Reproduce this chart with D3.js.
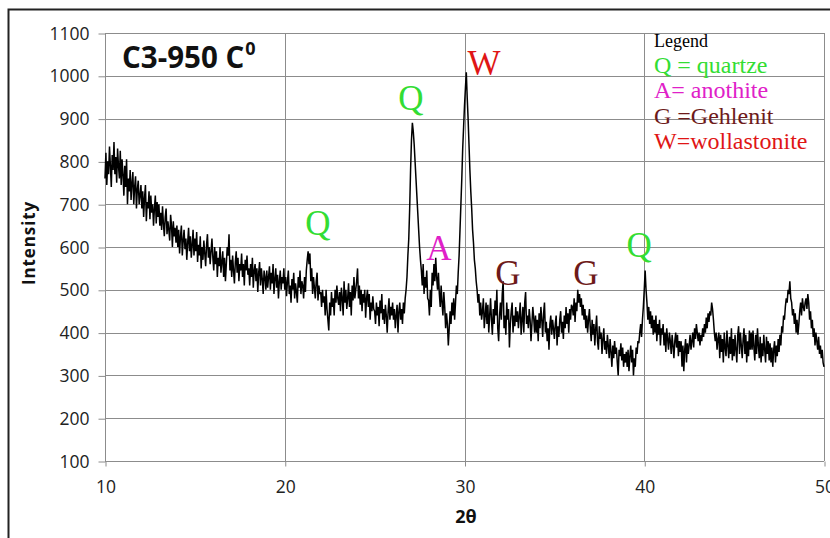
<!DOCTYPE html>
<html><head><meta charset="utf-8">
<script src="https://cdn.jsdelivr.net/npm/d3@7"></script>
<style>
html,body{margin:0;padding:0;background:#fff;}
svg{display:block;}
</style></head>
<body>
<svg id="chart" width="830" height="538"></svg>
<script>
// ---- data (2θ from 10 to 50, step 0.05) ----
const xStart = 10, xStep = 0.05;
const intensity = [
760,820,745,800,770,835,790,740,815,780,845,770,810,750,830,790,760,825,745,805,
770,720,790,740,805,700,760,730,780,710,750,775,700,740,765,690,735,755,700,720,
745,690,730,670,715,745,660,705,690,730,665,720,680,700,650,690,720,655,705,670,
700,650,680,640,695,655,625,670,690,630,660,640,615,675,650,600,660,625,645,610,
650,600,640,585,625,650,580,615,640,595,620,570,610,645,590,625,575,605,640,580,
620,590,635,565,605,580,625,550,600,570,615,585,555,605,630,575,600,560,590,620,
575,545,600,560,590,530,575,555,600,540,565,590,530,575,520,560,600,580,630,545,
570,530,580,545,515,565,590,540,575,520,560,545,585,530,560,510,570,545,580,535,
550,510,560,530,575,505,545,560,520,550,495,540,565,510,550,525,490,545,530,500,
545,505,530,555,500,540,515,560,490,525,550,505,535,480,520,545,500,530,515,550,
500,530,485,520,545,490,510,470,525,500,540,480,515,495,470,530,505,545,490,520,
510,480,530,495,545,570,590,560,585,520,550,490,530,505,480,520,540,475,510,490,
495,460,500,470,485,440,500,455,430,405,470,440,495,460,480,440,500,470,510,480,
465,495,450,505,480,440,520,470,500,455,480,515,460,495,440,510,475,530,480,500,
520,550,480,510,465,500,450,490,470,500,435,480,500,460,490,430,470,450,485,455,
450,420,470,440,460,415,475,445,490,430,455,420,465,440,400,450,480,430,460,440,
470,430,455,410,440,465,400,450,470,430,455,420,470,445,480,500,530,580,620,690,
780,850,890,870,840,800,760,720,680,640,600,570,545,510,560,490,530,505,545,480,
475,440,500,460,540,510,560,520,575,530,500,540,490,460,510,470,440,495,460,410,
445,420,370,410,450,420,470,440,480,430,470,510,490,540,580,640,700,760,830,880,
930,970,1008,950,900,840,780,730,690,640,610,570,550,520,500,470,490,440,470,430,
450,480,410,440,470,420,465,400,440,480,430,395,455,420,475,440,500,410,380,440,
470,430,490,520,410,440,395,470,430,455,365,420,450,470,400,440,415,460,425,450,
410,440,470,395,430,460,400,470,495,420,440,410,455,430,380,420,460,435,400,440,
400,430,380,445,410,460,430,390,445,470,400,425,380,410,360,420,440,395,430,410,
385,420,440,370,415,390,430,450,400,425,385,440,410,460,420,445,400,455,430,465,
460,440,480,425,470,450,500,470,490,460,480,440,465,430,455,410,440,400,430,455,
410,380,430,395,420,370,410,440,380,360,415,385,400,350,385,410,360,380,350,395,
370,340,385,355,320,370,340,380,350,365,330,300,360,345,375,335,365,320,350,330,
355,320,360,310,345,370,330,360,300,340,320,365,350,380,375,400,420,390,430,460,
500,545,500,470,430,460,420,450,410,440,395,430,400,440,380,420,395,430,370,410,
395,420,370,400,355,410,385,360,400,380,350,395,370,340,380,400,365,395,345,380,
355,380,320,370,310,360,385,330,375,350,370,395,360,380,400,365,410,385,420,400,
380,400,370,395,380,410,390,420,400,435,410,445,425,450,440,470,455,430,400,380,
400,360,385,400,340,395,355,385,330,400,365,345,405,370,340,390,350,410,335,385,
345,395,360,330,395,415,350,400,370,340,385,410,350,395,330,380,345,405,360,400,
360,405,365,335,395,350,410,370,340,390,330,375,345,395,360,330,390,350,380,335,
375,330,365,320,360,380,330,370,345,385,355,395,370,415,400,440,430,460,480,470,
500,490,520,480,470,440,455,420,445,400,430,395,420,450,470,440,480,460,450,470,
480,455,490,470,430,450,410,430,390,410,370,400,380,360,390,350,370,340,360,330,
320
];
const xTicks = [10,20,30,40,50];
const yTicks = [100,200,300,400,500,600,700,800,900,1000,1100];
const peakLabels = [
  {t:"Q", x:21.85, y:628, c:"#33dd33"},
  {t:"Q", x:27.02, y:920, c:"#33dd33"},
  {t:"A", x:28.58, y:570, c:"#e020c8"},
  {t:"W", x:31.08, y:1002, c:"#e01515"},
  {t:"G", x:32.42, y:511, c:"#6e1a1a"},
  {t:"G", x:36.76, y:511, c:"#6e1a1a"},
  {t:"Q", x:39.71, y:577, c:"#33dd33"}
];
const legendTitle = "Legend";
const legendItems = [
  {t:"Q = quartze", c:"#33dd33"},
  {t:"A= anothite", c:"#e020c8"},
  {t:"G =Gehlenit", c:"#6e1a1a"},
  {t:"W=wollastonite", c:"#e01515"}
];

// ---- chart ----
const svg = d3.select("#chart");
const x = d3.scaleLinear().domain([10,50]).range([105,824]);
const y = d3.scaleLinear().domain([100,1100]).range([461,33]);

// frame
svg.append("rect").attr("x",8.5).attr("y",9.5).attr("width",900).attr("height",900)
  .attr("fill","none").attr("stroke","#222").attr("stroke-width",2);

// gridlines
svg.append("g").selectAll("line").data(yTicks).join("line")
  .attr("x1",x(10)).attr("x2",x(50)).attr("y1",d=>Math.round(y(d))+0.5).attr("y2",d=>Math.round(y(d))+0.5)
  .attr("stroke","#8c8c8c").attr("stroke-width",1);
svg.append("g").selectAll("line").data(xTicks).join("line")
  .attr("y1",y(1100)).attr("y2",y(100)).attr("x1",d=>Math.round(x(d))+0.5).attr("x2",d=>Math.round(x(d))+0.5)
  .attr("stroke","#8c8c8c").attr("stroke-width",1);

// axes
const fmt = d3.format("d");
const yAxis = d3.axisLeft(y).tickValues(yTicks).tickFormat(fmt).tickSize(7).tickPadding(9);
const gy = svg.append("g").attr("transform",`translate(${Math.round(x(10))+0.5},0.5)`).call(yAxis);
const xAxis = d3.axisBottom(x).tickValues(xTicks).tickFormat(fmt).tickSize(5).tickPadding(14);
const gx = svg.append("g").attr("transform",`translate(0.5,${Math.round(y(100))+0.5})`).call(xAxis);
[gx,gy].forEach(g=>{
  g.select(".domain").remove();
  g.selectAll(".tick line").attr("stroke","#8c8c8c");
  g.selectAll(".tick text").attr("fill","#222").style("font-family","'Open Sans', sans-serif").style("font-size","17.5px");
});

// data line
const data = intensity.map((v,i)=>({x: xStart + i*xStep, y: v}));
svg.append("path").datum(data)
  .attr("fill","none").attr("stroke","#000").attr("stroke-width",1.5).attr("stroke-linejoin","miter")
  .attr("d", d3.line().x(d=>x(d.x)).y(d=>y(d.y)));

// axis titles
svg.append("text").attr("transform",`translate(35,243) rotate(-90)`)
  .attr("text-anchor","middle").style("font-family","'Open Sans', sans-serif").style("font-weight","bold")
  .style("font-size","17px").style("letter-spacing","0.9px").attr("fill","#111").text("Intensity");
svg.append("text").attr("x",466).attr("y",523).attr("text-anchor","middle")
  .style("font-family","'Open Sans', sans-serif").style("font-weight","bold").style("font-size","18px")
  .attr("fill","#111").text("2θ");

// title
const title = svg.append("text").attr("x",122).attr("y",68)
  .style("font-family","'Open Sans', sans-serif").style("font-weight","bold").style("font-size","29.5px").attr("fill","#111");
title.append("tspan").text("C3-950 C");
title.append("tspan").attr("dy",-13).attr("dx",1).style("font-size","18px").text("0");

// peak labels
svg.append("g").selectAll("text").data(peakLabels).join("text")
  .attr("x",d=>x(d.x)).attr("y",d=>y(d.y)).attr("text-anchor","middle")
  .style("font-family","'Liberation Serif', serif").style("font-size","35px")
  .attr("fill",d=>d.c).text(d=>d.t);

// legend
svg.append("text").attr("x",654).attr("y",47).style("font-family","'Liberation Serif', serif")
  .style("font-size","18px").attr("fill","#000").text(legendTitle);
svg.append("g").selectAll("text").data(legendItems).join("text")
  .attr("x",654).attr("y",(d,i)=>73+i*25.3)
  .style("font-family","'Liberation Serif', serif").style("font-size","24px")
  .attr("fill",d=>d.c).text(d=>d.t);
</script>
</body></html>
